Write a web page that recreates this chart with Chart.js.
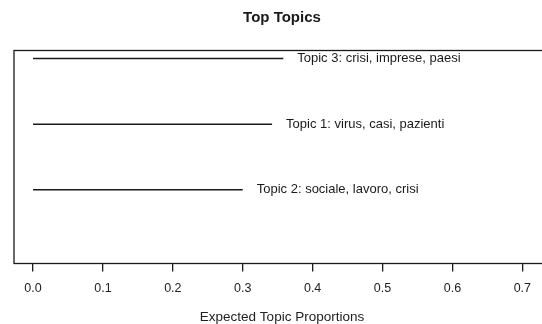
<!DOCTYPE html>
<html>
<head>
<meta charset="utf-8">
<script src="https://cdn.jsdelivr.net/npm/chart.js@4"></script>
<style>
  html, body { margin: 0; padding: 0; background: #fff; overflow: hidden; }
  #wrap { width: 560px; height: 324px; }
</style>
</head>
<body>
<div id="wrap"><canvas id="topics" width="560" height="324"></canvas></div>
<script>
const topicLabels = [
	'Topic 3: crisi, imprese, paesi',
	'Topic 1: virus, casi, pazienti',
	'Topic 2: sociale, lavoro, crisi',
];
const topicRanks = [3, 2, 1];
const topicProportions = [0.358, 0.342, 0.3];
const xTicks = [0, 0.1, 0.2, 0.3, 0.4, 0.5, 0.6, 0.7];

const FONT = '"Liberation Sans", Arial, Helvetica, sans-serif';
const INK = '#1a1a1a';

// box around the plot area (R style)
const boxPlugin = {
	id: 'box',
	afterDraw(chart) {
		const { ctx, chartArea } = chart;
		ctx.save();
		ctx.strokeStyle = INK;
		ctx.lineWidth = 1.3;
		ctx.strokeRect(chartArea.left, chartArea.top, chartArea.right - chartArea.left, chartArea.bottom - chartArea.top);
		ctx.restore();
	},
};

// topic labels at the end of each line
const labelPlugin = {
	id: 'topicLabels',
	afterDatasetsDraw(chart) {
		const { ctx, scales } = chart;
		ctx.save();
		ctx.font = '13px ' + FONT;
		ctx.fillStyle = INK;
		ctx.textAlign = 'left';
		ctx.textBaseline = 'middle';
		topicLabels.forEach((label, i) => {
			const x = scales.x.getPixelForValue(topicProportions[i]) + 14;
			const y = scales.y.getPixelForValue(topicRanks[i]);
			ctx.fillText(label, x, y);
		});
		ctx.restore();
	},
};

new Chart(document.getElementById('topics'), {
	type: 'line',
	data: {
		datasets: topicLabels.map((label, i) => ({
			label,
			data: [
				{ x: 0, y: topicRanks[i] },
				{ x: topicProportions[i], y: topicRanks[i] },
			],
			borderColor: INK,
			borderWidth: 1.5,
			pointRadius: 0,
			fill: false,
		})),
	},
	options: {
		responsive: false,
		animation: false,
		devicePixelRatio: 1,
		layout: { padding: { left: 14, right: 10, top: 0, bottom: 0 } },
		plugins: {
			legend: { display: false },
			tooltip: { enabled: false },
			title: {
				display: true,
				text: 'Top Topics',
				color: INK,
				font: { family: FONT, size: 15, weight: 'bold' },
				padding: { top: 9, bottom: 23.5 },
			},
		},
		scales: {
			x: {
				type: 'linear',
				min: -0.0272,
				max: 0.7396,
				afterBuildTicks(scale) {
					scale.ticks = xTicks.map((v) => ({ value: v }));
				},
				grid: {
					drawOnChartArea: false,
					drawTicks: true,
					tickLength: 8,
					color: INK,
					lineWidth: 1.3,
				},
				border: { display: false },
				ticks: {
					color: '#222',
					font: { family: FONT, size: 12.5 },
					padding: 9.5,
					maxRotation: 0,
					autoSkip: false,
					callback: (v) => Number(v).toFixed(1),
				},
				title: {
					display: true,
					text: 'Expected Topic Proportions',
					color: '#222',
					font: { family: FONT, size: 13.5, lineHeight: 1 },
					padding: { top: 5, bottom: 0 },
				},
			},
			y: {
				type: 'linear',
				display: false,
				min: -0.12,
				max: 3.12,
			},
		},
	},
	plugins: [boxPlugin, labelPlugin],
});
</script>
</body>
</html>
